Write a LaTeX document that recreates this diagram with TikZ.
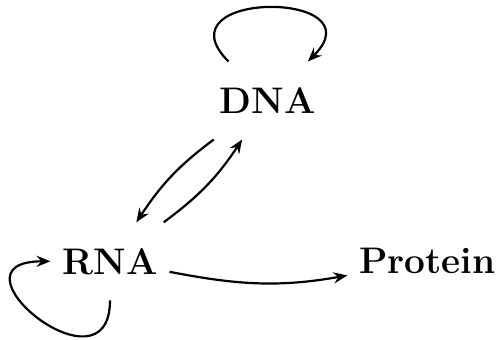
\documentclass[tikz,border=0pt]{standalone}
\usetikzlibrary{arrows.meta}
\begin{document}
\begin{tikzpicture}[x=1pt,y=1pt,
  lbl/.style={font=\fontsize{18.5pt}{22pt}\selectfont\bfseries, inner xsep=6pt, inner ysep=0pt, minimum height=39pt, outer sep=0pt},
  conn/.style={line width=1.1pt, -{Stealth[length=7pt,width=5.6pt,inset=2.4pt]}}]
\useasboundingbox (0,0) rectangle (249.5,169.5);
\node[lbl] (DNA) at (133.75,119.25) {DNA};
\node[lbl] (RNA) at (55,38.85) {RNA};
\node[lbl] (Protein) at (213.75,38.85) {Protein};
\draw[conn] (DNA.135) to[out=135,in=45,looseness=3.28] (DNA.44);
\draw[conn] (DNA.216) to[out=216.5,in=56.5] (RNA.56);
\draw[conn] (RNA.36) to[out=36.5,in=236.5] (DNA.237);
\draw[conn] (RNA.south) .. controls +(0,-50pt) and +(-55pt,0) .. (RNA.west);
\draw[conn] (RNA.-10) to[out=-11,in=190] (Protein.190);
\end{tikzpicture}
\end{document}
